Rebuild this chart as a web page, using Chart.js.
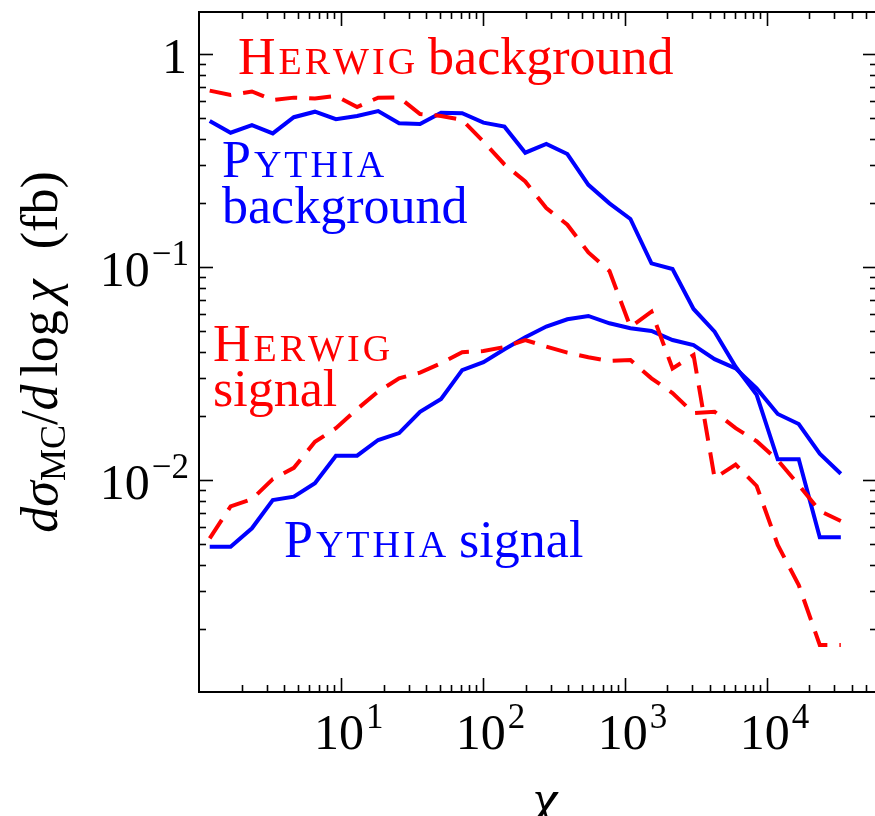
<!DOCTYPE html>
<html>
<head>
<meta charset="utf-8">
<script src="https://cdn.jsdelivr.net/npm/chart.js@4.4.0/dist/chart.umd.min.js"></script>
<style>
  html, body { margin: 0; padding: 0; background: #fff; overflow: hidden; }
  #wrap { width: 875px; height: 816px; overflow: hidden; }
  canvas { display: block; }
</style>
</head>
<body>
<div id="wrap"><canvas id="chart" width="880" height="816"></canvas></div>
<script>
  "use strict";

  // bin centres in chi
  const chi = [1.19, 1.67, 2.36, 3.31, 4.66, 6.56, 9.22, 13.0, 18.3, 25.7, 36.1, 50.8, 71.5, 101, 142, 199,
    280, 394, 554, 780, 1096, 1542, 2170, 3052, 4296, 6042, 8500, 11960, 16820, 23660, 33290];

  const herwigBackground = [0.673, 0.642, 0.667, 0.608, 0.624, 0.618, 0.635, 0.564, 0.624, 0.626, 0.523,
    0.512, 0.49, 0.388, 0.303, 0.252, 0.189, 0.158, 0.117, 0.0958, 0.0523, 0.0617, 0.0334, 0.0386, 0.0102,
    0.0118, 0.00937, 0.00495, 0.00321, 0.00168, 0.00168];

  const pythiaBackground = [0.485, 0.427, 0.463, 0.424, 0.505, 0.536, 0.494, 0.512, 0.54, 0.473, 0.469,
    0.53, 0.527, 0.476, 0.456, 0.344, 0.378, 0.339, 0.243, 0.199, 0.168, 0.104, 0.0979, 0.0635, 0.0497,
    0.034, 0.0251, 0.0125, 0.0125, 0.00538, 0.00538];

  const herwigSignal = [0.00532, 0.00751, 0.00812, 0.0101, 0.0114, 0.0151, 0.0175, 0.0215, 0.026, 0.03,
    0.0319, 0.0353, 0.0398, 0.0403, 0.0421, 0.0454, 0.0423, 0.0396, 0.0377, 0.0362, 0.0366, 0.03, 0.0256,
    0.0206, 0.0209, 0.0175, 0.0152, 0.0124, 0.00947, 0.00715, 0.00642];

  const pythiaSignal = [0.00486, 0.00486, 0.00593, 0.00805, 0.00835, 0.00965, 0.013, 0.013, 0.0154, 0.0166,
    0.0209, 0.024, 0.0328, 0.0357, 0.0411, 0.0468, 0.0525, 0.0568, 0.0589, 0.0544, 0.0516, 0.0501, 0.0454,
    0.043, 0.0369, 0.0334, 0.0269, 0.0204, 0.0183, 0.0133, 0.0107];

  const xTickExp = [1, 2, 3, 4];
  const yTickValues = [1, 0.1, 0.01];
  const yTickBase = ["1", "10", "10"];
  const yTickExp = ["", "\u22121", "\u22122"];

  const RED = "#ff0000";
  const BLUE = "#0000ff";
  const SERIF = "'Liberation Serif', 'DejaVu Serif', serif";

  const pts = (ys) => chi.map((x, i) => ({ x: x, y: ys[i] }));

  function font(size, italic) {
    return (italic ? "italic " : "") + size + "px " + SERIF;
  }

  // draws a run of pieces [{t, size, italic, dy}] left to right, returns width
  function drawRun(ctx, parts, x, y, measureOnly) {
    let cx = x;
    parts.forEach((p) => {
      ctx.font = font(p.size, p.italic);
      if (!measureOnly) ctx.fillText(p.t, cx, y + (p.dy || 0));
      cx += ctx.measureText(p.t).width + (p.gap || 0);
    });
    return cx - x;
  }

  function smallCaps(word, size) {
    const parts = [{ t: word[0], size: size, gap: 3 }];
    word.slice(1).toUpperCase().split("").forEach((c) => parts.push({ t: c, size: Math.round(size * 0.73), gap: 3 }));
    parts[parts.length - 1].gap = 0;
    return parts;
  }

  const decor = {
    id: "decor",
    afterDraw(chart) {
      const { ctx, chartArea: a, scales } = chart;
      const xs = scales.x, ys = scales.y;
      ctx.save();
      ctx.strokeStyle = "#000";
      ctx.fillStyle = "#000";
      ctx.lineWidth = 2;
      ctx.strokeRect(a.left, a.top, a.right - a.left, a.bottom - a.top);

      ctx.lineWidth = 1.6;
      const seg = (x1, y1, x2, y2) => {
        ctx.beginPath();
        ctx.moveTo(x1, y1);
        ctx.lineTo(x2, y2);
        ctx.stroke();
      };
      for (let e = 0; e <= 4; e++) {
        for (let m = 1; m <= 9; m++) {
          const v = m * Math.pow(10, e);
          if (v <= xs.min || v > xs.max) continue;
          const px = Math.round(xs.getPixelForValue(v)) + 0.5;
          const len = m === 1 ? 14 : 7;
          seg(px, a.bottom, px, a.bottom - len);
          seg(px, a.top, px, a.top + len);
        }
      }
      for (let e = -3; e <= 0; e++) {
        for (let m = 1; m <= 9; m++) {
          const v = m * Math.pow(10, e);
          if (v <= ys.min || v > ys.max) continue;
          const py = Math.round(ys.getPixelForValue(v)) + 0.5;
          const len = m === 1 ? 14 : 7;
          seg(a.left, py, a.left + len, py);
          seg(a.right, py, a.right - len, py);
        }
      }

      // tick labels
      ctx.textBaseline = "alphabetic";
      ctx.textAlign = "left";
      xTickExp.forEach((e) => {
        const px = xs.getPixelForValue(Math.pow(10, e));
        ctx.font = font(50);
        const w = ctx.measureText("10").width;
        drawRun(ctx, [{ t: "10", size: 50, gap: 2 }, { t: String(e), size: 35, dy: -21 }], px - w / 2 - 2, a.bottom + 57);
      });
      yTickValues.forEach((v, i) => {
        const py = ys.getPixelForValue(v);
        const parts = [{ t: yTickBase[i], size: 50, gap: 2 }];
        if (yTickExp[i]) parts.push({ t: yTickExp[i], size: 35, dy: -21 });
        const w = drawRun(ctx, parts, 0, 0, true);
        drawRun(ctx, parts, a.left - 10 - w, py + 19);
      });

      // axis titles
      ctx.save();
      ctx.translate(57, 352);
      ctx.rotate(-Math.PI / 2);
      const yTitle = [
        { t: "d", size: 52, italic: true },
        { t: "\u03c3", size: 52, italic: true },
        { t: "MC", size: 36, dy: 8 },
        { t: "/", size: 52 },
        { t: "d", size: 52, italic: true, gap: 8 },
        { t: "log", size: 52, gap: 8 },
        { t: "\u03c7", size: 52, italic: true, gap: 30 },
        { t: "(fb)", size: 52 },
      ];
      const tw = drawRun(ctx, yTitle, 0, 0, true);
      drawRun(ctx, yTitle, -tw / 2, 0);
      ctx.restore();

      ctx.font = font(56, true);
      ctx.textAlign = "center";
      ctx.fillText("\u03c7", 545, 818);
      ctx.textAlign = "left";

      // curve labels
      ctx.fillStyle = RED;
      let w = drawRun(ctx, smallCaps("Herwig", 52), 238, 74);
      drawRun(ctx, [{ t: " background", size: 52 }], 238 + w, 74);
      drawRun(ctx, smallCaps("Herwig", 52), 213, 361);
      drawRun(ctx, [{ t: "signal", size: 52 }], 213, 406);

      ctx.fillStyle = BLUE;
      drawRun(ctx, smallCaps("Pythia", 52), 222, 177);
      drawRun(ctx, [{ t: "background", size: 52 }], 222, 223);
      w = drawRun(ctx, smallCaps("Pythia", 52), 284, 557);
      drawRun(ctx, [{ t: " signal", size: 52 }], 284 + w, 557);
      ctx.restore();
    },
  };

  const lineStyle = (color, dashed) => ({
    borderColor: color,
    borderWidth: 4,
    borderDash: dashed ? [22, 12] : [],
    pointRadius: 0,
    tension: 0,
    fill: false,
  });

  new Chart(document.getElementById("chart"), {
    type: "line",
    data: {
      datasets: [
        Object.assign({ label: "Herwig signal", data: pts(herwigSignal) }, lineStyle(RED, true)),
        Object.assign({ label: "Herwig background", data: pts(herwigBackground) }, lineStyle(RED, true)),
        Object.assign({ label: "Pythia signal", data: pts(pythiaSignal) }, lineStyle(BLUE, false)),
        Object.assign({ label: "Pythia background", data: pts(pythiaBackground) }, lineStyle(BLUE, false)),
      ],
    },
    options: {
      responsive: false,
      animation: false,
      events: [],
      layout: { padding: { left: 199, top: 12, right: 3, bottom: 124 } },
      plugins: { legend: { display: false }, tooltip: { enabled: false } },
      scales: {
        x: { type: "logarithmic", min: 1, max: 59874, display: false },
        y: { type: "logarithmic", min: 0.00101, max: 1.575, display: false },
      },
    },
    plugins: [decor],
  });
</script>
</body>
</html>
